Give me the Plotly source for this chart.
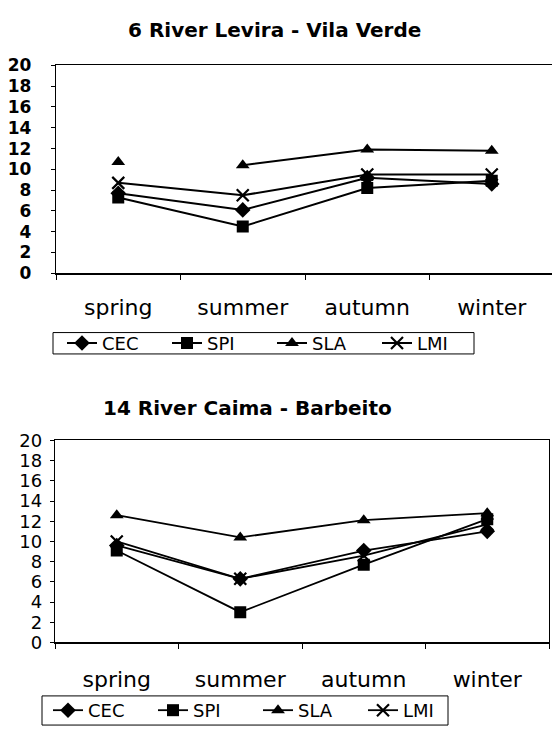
import plotly.graph_objects as go

W, H = 552, 737

seasons = ["spring", "summer", "autumn", "winter"]
y_ticks = list(range(0, 21, 2))

# Chart 1: 6 River Levira - Vila Verde
title1 = "6 River Levira - Vila Verde"
cec1 = [7.7, 6.1, 9.2, 8.6]
spi1 = [7.3, 4.5, 8.2, 8.9]
sla1 = [10.7, 10.4, 11.9, 11.8]
lmi1 = [8.7, 7.5, 9.5, 9.5]

# Chart 2: 14 River Caima - Barbeito
title2 = "14 River Caima - Barbeito"
cec2 = [9.6, 6.3, 9.1, 11.0]
spi2 = [9.1, 3.0, 7.7, 12.2]
sla2 = [12.6, 10.4, 12.1, 12.8]
lmi2 = [10.0, 6.3, 8.6, 11.7]

FONT = "DejaVu Sans, Liberation Sans, Arial, sans-serif"


def fx(p):
    return p / W


def fy(p):
    return 1 - p / H


symbols = {"CEC": "diamond", "SPI": "square", "SLA": "triangle-up", "LMI": "x-thin"}
sizes = {"CEC": 12, "SPI": 12, "SLA": 12, "LMI": 12}

fig = go.Figure()


def add_series(name, xs, ys, xa, ya, leg, showlegend=True, mode="lines+markers", lw=2):
    sym = symbols[name]
    if sym == "x-thin":
        marker = dict(symbol=sym, size=sizes[name], color="black",
                      line=dict(width=2.2, color="black"))
    else:
        marker = dict(symbol=sym, size=sizes[name], color="black", line=dict(width=0))
    fig.add_trace(go.Scatter(
        x=xs, y=ys, name=name, mode=mode, xaxis=xa, yaxis=ya,
        line=dict(color="black", width=lw), marker=marker,
        legend=leg, showlegend=showlegend))


# top chart
add_series("CEC", seasons, cec1, "x", "y", "legend")
add_series("SPI", seasons, spi1, "x", "y", "legend")
add_series("SLA", seasons[1:], sla1[1:], "x", "y", "legend")
add_series("SLA", seasons[:1], sla1[:1], "x", "y", "legend", showlegend=False, mode="markers")
add_series("LMI", seasons, lmi1, "x", "y", "legend")

# bottom chart
add_series("CEC", seasons, cec2, "x2", "y2", "legend2", lw=1.8)
add_series("SPI", seasons, spi2, "x2", "y2", "legend2", lw=1.8)
add_series("SLA", seasons, sla2, "x2", "y2", "legend2", lw=1.8)
add_series("LMI", seasons, lmi2, "x2", "y2", "legend2", lw=1.8)

top_left, top_right = 56, 554
band1 = (top_right - top_left) / 4
xr1 = [-0.5, -0.5 + (W - top_left) / band1]

xcommon = dict(type="category", categoryorder="array", categoryarray=seasons,
               showline=True, linecolor="black", linewidth=1.2,
               ticks="outside", tickson="boundaries", ticklen=5, tickcolor="black",
               showgrid=False, zeroline=False,
               tickfont=dict(family=FONT, size=22, color="black"))
ycommon = dict(range=[0, 20], tickvals=y_ticks, showline=True, linecolor="black",
               linewidth=1.2, ticks="outside", ticklen=4, tickcolor="black",
               showgrid=False, zeroline=False)

fig.update_layout(
    width=W, height=H, margin=dict(l=0, r=0, t=0, b=0),
    paper_bgcolor="white", plot_bgcolor="white",
    xaxis=dict(xcommon, domain=[fx(top_left), 1], range=xr1, mirror=True,
               anchor="y", ticklabelstandoff=14),
    yaxis=dict(ycommon, domain=[fy(270), fy(56)], anchor="x",
               tickfont=dict(family=FONT, size=17, color="black", weight="bold"),
               ticklabelstandoff=16),
    xaxis2=dict(xcommon, domain=[fx(55), fx(549)], range=[-0.5, 3.5], mirror=True,
                anchor="y2", ticklabelstandoff=17),
    yaxis2=dict(ycommon, domain=[fy(650), fy(442)], anchor="x2", mirror=True,
                tickfont=dict(family=FONT, size=18, color="black"),
                ticklabelstandoff=4),
    legend=dict(orientation="h", x=fx(62), y=fy(342), xanchor="left", yanchor="middle",
                borderwidth=0, bgcolor="rgba(0,0,0,0)",
                font=dict(family=FONT, size=18, color="black"),
                entrywidth=60, traceorder="normal"),
    legend2=dict(orientation="h", x=fx(48), y=fy(720), xanchor="left", yanchor="middle",
                 borderwidth=0, bgcolor="rgba(0,0,0,0)",
                 font=dict(family=FONT, size=18, color="black"),
                 entrywidth=60, traceorder="normal"),
    shapes=[
        dict(type="rect", xref="paper", yref="paper", x0=fx(53), x1=fx(474),
             y0=fy(353), y1=fy(331), line=dict(color="black", width=1)),
        dict(type="rect", xref="paper", yref="paper", x0=fx(42), x1=fx(448),
             y0=fy(735), y1=fy(705), line=dict(color="black", width=1)),
    ],
    annotations=[
        dict(text="<b>" + title1 + "</b>", x=fx(274), y=fy(20), xref="paper", yref="paper",
             xanchor="center", yanchor="middle",
             showarrow=False, font=dict(family=FONT, size=20, color="black")),
        dict(text="<b>" + title2 + "</b>", x=fx(247), y=fy(409), xref="paper", yref="paper",
             xanchor="center", yanchor="middle",
             showarrow=False, font=dict(family=FONT, size=20, color="black")),
    ],
)

fig.write_html("out.html",
               config={"displayModeBar": False, "staticPlot": True},
               post_script="document.body.style.margin='0px';"
                           "document.body.style.overflow='hidden';")
